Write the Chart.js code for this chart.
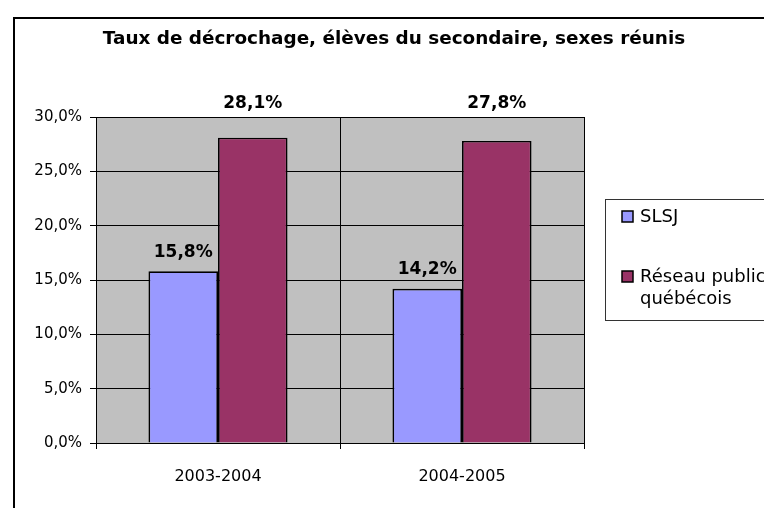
<!DOCTYPE html>
<html>
<head>
<meta charset="utf-8">
<script src="https://cdn.jsdelivr.net/npm/chart.js@4/dist/chart.umd.min.js"></script>
<style>
  html, body { margin: 0; padding: 0; background: #fff; }
  #wrap { width: 764px; height: 508px; }
</style>
</head>
<body>
<div id="wrap"><canvas id="chart" width="764" height="508"></canvas></div>
<script>
// Data
const chartTitle = 'Taux de décrochage, élèves du secondaire, sexes réunis';
const categories = ['2003-2004', '2004-2005'];
const seriesNames = ['SLSJ', 'Réseau public\nquébécois'];
const slsj = [15.8, 14.2];
const reseau = [28.1, 27.8];
const yTicks = [0, 5, 10, 15, 20, 25, 30];

const barColors = ['#9999ff', '#993366'];
const fontFamily = "'DejaVu Sans', sans-serif";

Chart.defaults.font.family = fontFamily;
Chart.defaults.color = '#000';

const fmt = v => v.toFixed(1).replace('.', ',') + '%';

// Background, plot area, outer frame and title
const backdrop = {
    id: 'backdrop',
    beforeDraw(chart) {
        const { ctx, chartArea: a } = chart;
        ctx.save();
        ctx.fillStyle = '#fff';
        ctx.fillRect(0, 0, chart.width, chart.height);
        ctx.fillStyle = '#c0c0c0';
        ctx.fillRect(a.left, a.top, a.right - a.left, a.bottom - a.top);
        ctx.strokeStyle = '#000';
        ctx.lineWidth = 2;
        ctx.strokeRect(14, 18, 800, 560);
        ctx.font = 'bold 18.4px ' + fontFamily;
        ctx.textAlign = 'center';
        ctx.textBaseline = 'middle';
        ctx.fillStyle = '#000';
        ctx.fillText(chartTitle, 394, 39);
        ctx.restore();
    }
};

// Value labels above bars
const valueLabels = {
    id: 'valueLabels',
    afterDatasetsDraw(chart) {
        const { ctx, chartArea: a } = chart;
        ctx.save();
        ctx.font = 'bold 17px ' + fontFamily;
        ctx.textAlign = 'center';
        ctx.textBaseline = 'middle';
        ctx.fillStyle = '#000';
        chart.data.datasets.forEach((ds, i) => {
            chart.getDatasetMeta(i).data.forEach((bar, j) => {
                let y = bar.y - 19;
                if (y < a.top + 12) y = a.top - 13;   // keep clear of the top gridline
                ctx.fillText(fmt(ds.data[j]), bar.x, y);
            });
        });
        ctx.restore();
    }
};

// Boxed legend on the right
const boxLegend = {
    id: 'boxLegend',
    afterDraw(chart) {
        const { ctx } = chart;
        ctx.save();
        ctx.strokeStyle = '#333';
        ctx.lineWidth = 1;
        ctx.strokeRect(605.5, 199.5, 220, 121);
        ctx.font = '18px ' + fontFamily;
        ctx.textAlign = 'left';
        ctx.textBaseline = 'middle';
        const rows = [211, 271];
        chart.data.datasets.forEach((ds, i) => {
            const y = rows[i];
            ctx.fillStyle = ds.backgroundColor;
            ctx.fillRect(622, y, 11, 11);
            ctx.strokeStyle = '#000';
            ctx.lineWidth = 1.5;
            ctx.strokeRect(622, y, 11, 11);
            ctx.fillStyle = '#000';
            ds.label.split('\n').forEach((line, k) => {
                ctx.fillText(line, 640, y + 6 + k * 22);
            });
        });
        ctx.restore();
    }
};

new Chart(document.getElementById('chart'), {
    type: 'bar',
    data: {
        labels: categories,
        datasets: [
            { label: seriesNames[0], data: slsj, backgroundColor: barColors[0] },
            { label: seriesNames[1], data: reseau, backgroundColor: barColors[1] }
        ]
    },
    options: {
        responsive: false,
        animation: false,
        events: [],
        layout: { padding: { left: 0, top: 117, right: 180, bottom: 0 } },
        datasets: {
            bar: {
                borderColor: '#000',
                borderWidth: 1.7,
                borderSkipped: 'start',
                barPercentage: 1,
                categoryPercentage: 0.57
            }
        },
        plugins: {
            legend: { display: false },
            title: { display: false },
            tooltip: { enabled: false }
        },
        scales: {
            x: {
                afterFit(scale) { scale.height = 65; },
                grid: { color: '#000', lineWidth: 1, offset: true, tickLength: 6 },
                border: { color: '#000', width: 1 },
                ticks: { font: { size: 16 }, padding: 18, color: '#000' }
            },
            y: {
                min: 0,
                max: 30,
                afterFit(scale) { scale.width = 96; },
                afterBuildTicks(scale) { scale.ticks = yTicks.map(v => ({ value: v })); },
                grid: { color: '#000', lineWidth: 1, tickLength: 6 },
                border: { color: '#000', width: 1 },
                ticks: { font: { size: 15 }, padding: 8, color: '#000', callback: v => fmt(v) }
            }
        }
    },
    plugins: [backdrop, valueLabels, boxLegend]
});
</script>
</body>
</html>
